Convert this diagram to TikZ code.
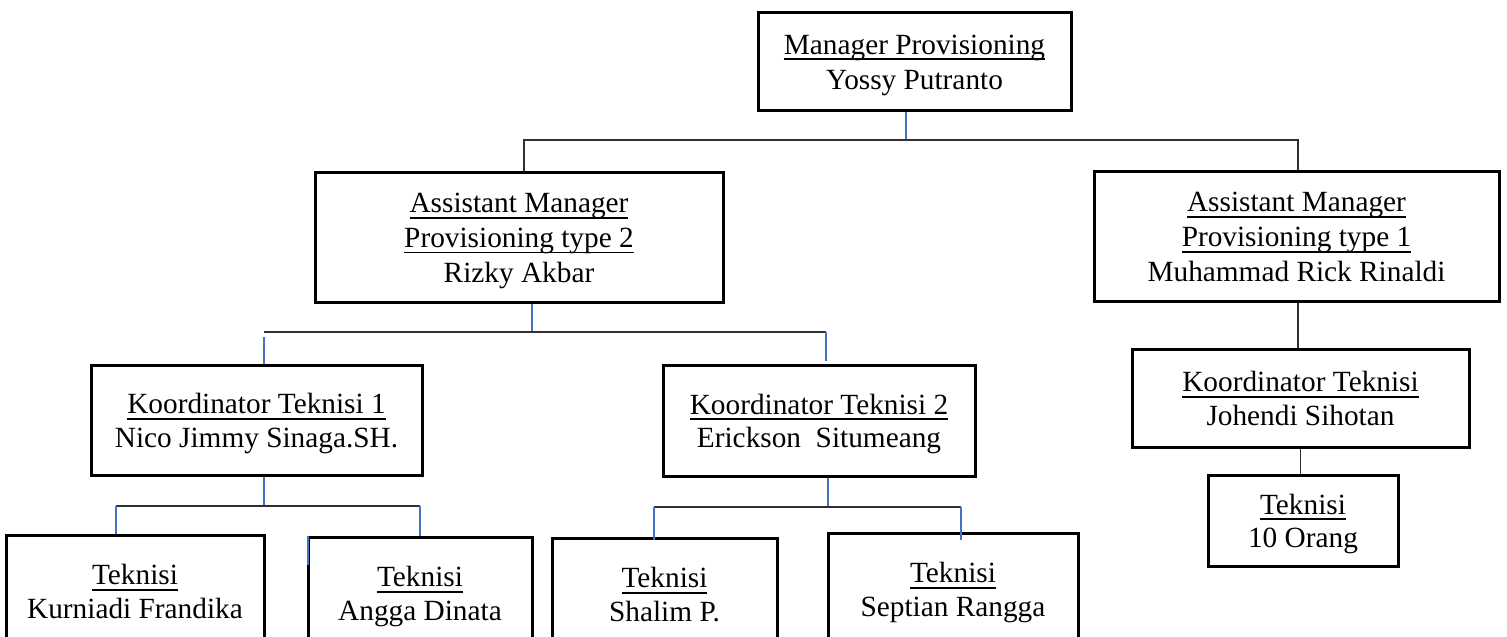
\documentclass[tikz,border=0pt]{standalone}
\usepackage{fontspec}
\setmainfont{Liberation Serif}
\newcommand\tnr{\fontsize{29.3}{33.7}\selectfont}
\newcommand\lstrut{\rule[-6.1pt]{0pt}{33.7pt}}
\newsavebox\ulbox
\newcommand\uln[1]{\sbox\ulbox{#1}\rlap{\rule[-5.8pt]{\wd\ulbox}{1.6pt}}\usebox\ulbox}
\definecolor{conblue}{HTML}{4472C4}
\definecolor{congray}{HTML}{303030}
\tikzset{
  orgbox/.style={draw=black, line width=3pt, fill=white, inner sep=0pt, align=center, font=\tnr},
  bluecon/.style={draw=conblue, line width=1.3pt},
  graycon/.style={draw=congray, line width=1.3pt},
}
\begin{document}
\begin{tikzpicture}[x=1pt,y=-1pt]
\useasboundingbox (0,0) rectangle (1507,637);
\fill[white] (0,0) rectangle (1507,637);
\clip (0,0) rectangle (1507,637);

% boxes
\node[orgbox, minimum width=313pt, minimum height=98pt] (top) at (914.5,61)
  {\lstrut\uln{Manager Provisioning}\\\lstrut Yossy Putranto};
\node[orgbox, minimum width=408pt, minimum height=130pt] (am2) at (519,237)
  {\lstrut\uln{Assistant Manager}\\\lstrut\uln{Provisioning type 2}\\\lstrut Rizky Akbar};
\node[orgbox, minimum width=405pt, minimum height=130pt] (am1) at (1296.5,236)
  {\lstrut\uln{Assistant Manager}\\\lstrut\uln{Provisioning type 1}\\\lstrut Muhammad Rick Rinaldi};
\node[orgbox, minimum width=331pt, minimum height=110pt] (k1) at (256.5,420)
  {\lstrut\uln{Koordinator Teknisi 1}\\\lstrut Nico Jimmy Sinaga.SH.};
\node[orgbox, minimum width=312pt, minimum height=111pt] (k2) at (819,420.5)
  {\lstrut\uln{Koordinator Teknisi 2}\\\lstrut Erickson~ Situmeang};
\node[orgbox, minimum width=337pt, minimum height=98pt] (k3) at (1300.5,398)
  {\lstrut\uln{Koordinator Teknisi}\\\lstrut Johendi Sihotan};
\node[orgbox, minimum width=190pt, minimum height=91pt] (t10) at (1303,520.5)
  {\lstrut\uln{Teknisi}\\\lstrut 10 Orang};
\node[orgbox, minimum width=258pt, minimum height=112pt] (tk) at (135,591)
  {\lstrut\uln{Teknisi}\\\lstrut Kurniadi Frandika};
\node[orgbox, minimum width=224pt, minimum height=112pt] (ta) at (420,593)
  {\lstrut\uln{Teknisi}\\\lstrut Angga Dinata};
\node[orgbox, minimum width=225pt, minimum height=112pt] (ts) at (664.5,594)
  {\lstrut\uln{Teknisi}\\\lstrut Shalim P.};
\node[orgbox, minimum width=250pt, minimum height=112pt] (tp) at (953,589)
  {\lstrut\uln{Teknisi}\\\lstrut Septian Rangga};

% junction coordinates
\coordinate (j0) at (906,140);
\coordinate (j0l) at (524,140);
\coordinate (j0r) at (1298,140);
\coordinate (j1) at (532,332);
\coordinate (j1l) at (264,332);
\coordinate (j1r) at (826,332);
\coordinate (j1lb) at (264,337);
\coordinate (j2) at (264,506);
\coordinate (j2l) at (116,506);
\coordinate (j2r) at (420,506);
\coordinate (j3) at (828,507);
\coordinate (j3l) at (654,507);
\coordinate (j3r) at (961,507);
\coordinate (aedge) at (308,565);

% top level
\draw[bluecon] (j0 |- top.south) -- (j0);
\draw[graycon] (j0l |- am2.north) -- (j0l) -- (j0r) -- (j0r |- am1.north);

% under Rizky Akbar
\draw[bluecon] (j1 |- am2.south) -- (j1);
\draw[graycon] (j1l) -- (j1r);
\draw[bluecon] (j1lb) -- (j1lb |- k1.north);
\draw[bluecon] (j1r) -- ([yshift=3pt]j1r |- k2.north);

% under Koordinator 1
\draw[bluecon] (j2 |- k1.south) -- (j2);
\draw[graycon] (j2l) -- (j2r);
\draw[bluecon] (j2l) -- (j2l |- tk.north);
\draw[bluecon] (j2r) -- (j2r |- ta.north);
\draw[bluecon] (aedge |- ta.north) -- (aedge);

% under Koordinator 2
\draw[bluecon] (j3 |- k2.south) -- (j3);
\draw[graycon] (j3l) -- (j3r);
\draw[bluecon] (j3l) -- ([yshift=-3pt]j3l |- ts.north);
\draw[bluecon] (j3r) -- ([yshift=-8pt]j3r |- tp.north);

% right column
\draw[graycon] (am1.south -| j0r) -- (k3.north -| j0r);
\draw[graycon] (k3.south) -- (k3.south |- t10.north);
\end{tikzpicture}
\end{document}
